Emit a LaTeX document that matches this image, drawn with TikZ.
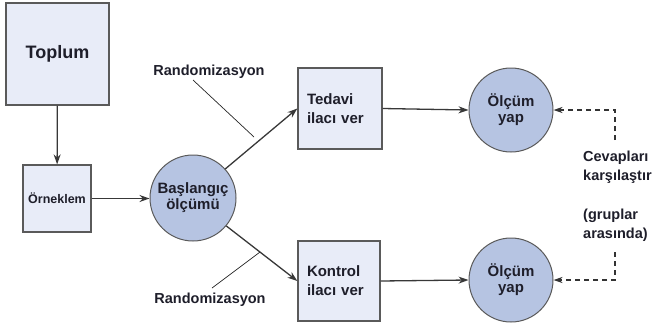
\documentclass[tikz,border=0pt]{standalone}
\usepackage{fontspec}
\setmainfont{Liberation Sans}
\usetikzlibrary{arrows.meta}
\definecolor{boxfill}{HTML}{E8ECF8}
\definecolor{circfill}{HTML}{B6C4E2}
\definecolor{edge}{HTML}{5A5A5A}
\definecolor{ink}{HTML}{1E1E2A}
\tikzset{
  boxnode/.style={draw=edge, line width=1.3pt, fill=boxfill, inner sep=0pt, text=ink, font=\bfseries},
  circnode/.style={circle, draw=edge, line width=1pt, fill=circfill, inner sep=0pt, text=ink, font=\fontsize{15}{17}\selectfont\bfseries, align=center},
  arr/.style={draw=black!78, line width=1.3pt, -{Stealth[length=10pt,width=7pt]}},
  darr/.style={draw=black!80, line width=1.2pt, dash pattern=on 5pt off 4pt, -{Stealth[length=9pt,width=6pt]}},
  thinline/.style={draw=black!85, line width=0.7pt},
  lbl/.style={text=ink, font=\fontsize{14.5}{16}\selectfont\bfseries, inner sep=0pt}
}
\begin{document}
\begin{tikzpicture}[x=1pt,y=-1pt]
\useasboundingbox (0,0) rectangle (661,327);
\node[boxnode, minimum width=103pt, minimum height=102pt, font=\fontsize{18}{20}\selectfont\bfseries] (top) at (57.5,54) {Toplum};
\node[boxnode, minimum width=68pt, minimum height=67pt, font=\fontsize{12.5}{14}\selectfont\bfseries] (orn) at (57,198.5) {Örneklem};
\node[circnode, minimum size=86pt] (bas) at (193,198) {Başlangıç\\[-1pt]ölçümü};
\node[boxnode, minimum width=84pt, minimum height=81pt, text width=66pt, align=left, font=\fontsize{15}{19}\selectfont\bfseries] (ted) at (340,108.5) {Tedavi\\ilacı ver};
\node[boxnode, minimum width=82pt, minimum height=80pt, text width=64pt, align=left, font=\fontsize{15}{19}\selectfont\bfseries] (kon) at (339,281) {Kontrol\\ilacı ver};
\node[circnode, minimum size=84pt] (m1) at (511,110) {Ölçüm\\[-1pt]yap};
\node[circnode, minimum size=84pt] (m2) at (511,280) {Ölçüm\\[-1pt]yap};
\draw[arr] (top) -- (orn);
\draw[arr] (orn.east) -- (orn.east -| bas.west);
\draw[arr] (bas.42) -- (ted.west);
\draw[arr] (bas.-40) -- (kon.west);
\draw[arr] (ted.east) -- (m1.west);
\draw[arr] (kon.east) -- (m2.west);
\node[lbl] (r1) at (209,72) {Randomizasyon};
\node[lbl] (r2) at (210,300) {Randomizasyon};
\coordinate (r1a) at (193,80);
\coordinate (r1b) at (254,137);
\coordinate (r2a) at (260,252);
\coordinate (r2b) at (212,288);
\draw[thinline] (r1a) -- (r1b);
\draw[thinline] (r2a) -- (r2b);
\node[lbl, anchor=north west, align=left, font=\fontsize{14.5}{19}\selectfont\bfseries] (cmp) at (583,151) {Cevapları\\karşılaştır\\[20pt](gruplar\\arasında)};
\coordinate (d1) at (615,140);
\coordinate (d2) at (615,252);
\draw[darr] (d1) |- (m1.east);
\draw[darr] (d2) |- (m2.east);
\end{tikzpicture}
\end{document}
